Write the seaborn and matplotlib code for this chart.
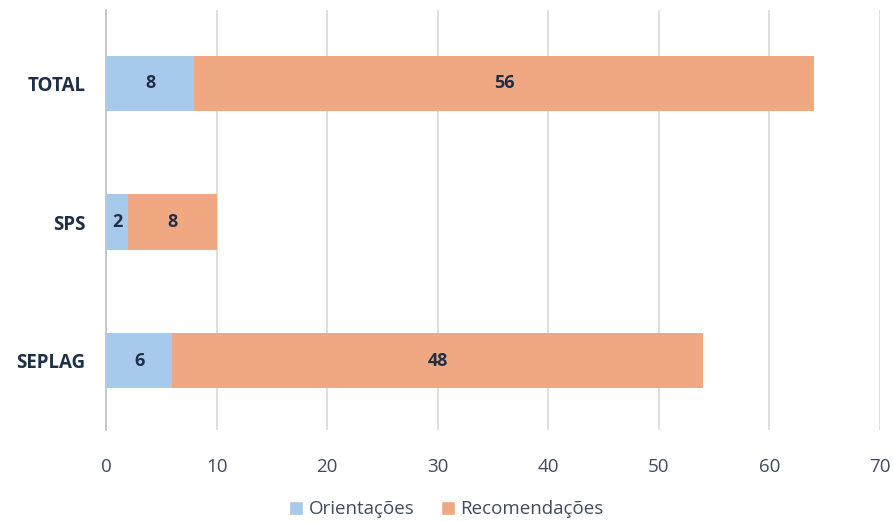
import matplotlib
matplotlib.use("Agg")
import matplotlib.pyplot as plt
import seaborn as sns
import pandas as pd
from matplotlib.patches import Patch

categories = ["TOTAL", "SPS", "SEPLAG"]
orientacoes = [8, 2, 6]
recomendacoes = [56, 8, 48]
series_names = ["Orientações", "Recomendações"]
x_ticks = [0, 10, 20, 30, 40, 50, 60, 70]

blue = "#A7C9EB"
orange = "#F0A882"
text_dark = "#1F2F46"
tick_color = "#3E4C60"

sns.set_theme(style="white")
plt.rcParams["font.family"] = ["Open Sans", "DejaVu Sans"]

df = pd.DataFrame({
    "categoria": categories,
    "Orientações": orientacoes,
    "Recomendações": recomendacoes,
})
df["total"] = df["Orientações"] + df["Recomendações"]

fig = plt.figure(figsize=(8.93, 5.22), dpi=100)
ax = fig.add_axes([106 / 893, 1 - 430 / 522, (880 - 106) / 893, (430 - 10) / 522])

# stacked bars: full length in orange, first segment in blue on top
sns.barplot(data=df, y="categoria", x="total", order=categories, color=orange,
            width=0.4, orient="h", ax=ax, saturation=1, linewidth=0, zorder=2)
sns.barplot(data=df, y="categoria", x="Orientações", order=categories, color=blue,
            width=0.4, orient="h", ax=ax, saturation=1, linewidth=0, zorder=3)

for i, (o, r) in enumerate(zip(orientacoes, recomendacoes)):
    ax.text(o / 2, i, f"{o}", ha="center", va="center", fontsize=13,
            fontweight="bold", color=text_dark, zorder=4)
    ax.text(o + r / 2, i, f"{r}", ha="center", va="center", fontsize=13,
            fontweight="bold", color=text_dark, zorder=4)

ax.set_xlim(0, 70)
ax.set_ylim(2.5, -0.53)
ax.set_xticks(x_ticks)
ax.set_xticklabels([str(t) for t in x_ticks], fontsize=13.5, color=tick_color)
ax.set_yticklabels(categories, fontsize=13.5, fontweight="bold", color=text_dark)
ax.set_xlabel("")
ax.set_ylabel("")
ax.tick_params(axis="both", length=0)
ax.tick_params(axis="x", pad=20)
ax.tick_params(axis="y", pad=15)
ax.xaxis.grid(True, color="#D9D9D9", linewidth=1.2, zorder=0)
ax.set_axisbelow(True)
for side in ["top", "right", "bottom"]:
    ax.spines[side].set_visible(False)
ax.spines["left"].set_color("#BFBFBF")
ax.spines["left"].set_linewidth(1.2)

handles = [Patch(facecolor=blue, label=series_names[0]),
           Patch(facecolor=orange, label=series_names[1])]
fig.legend(handles=handles, loc="lower center", bbox_to_anchor=(0.5, -0.025),
           ncol=2, frameon=False, fontsize=13.5, handlelength=0.75, handleheight=0.75,
           handletextpad=0.3, columnspacing=1.4, labelcolor=tick_color)

fig.savefig("out.png", dpi=100)
